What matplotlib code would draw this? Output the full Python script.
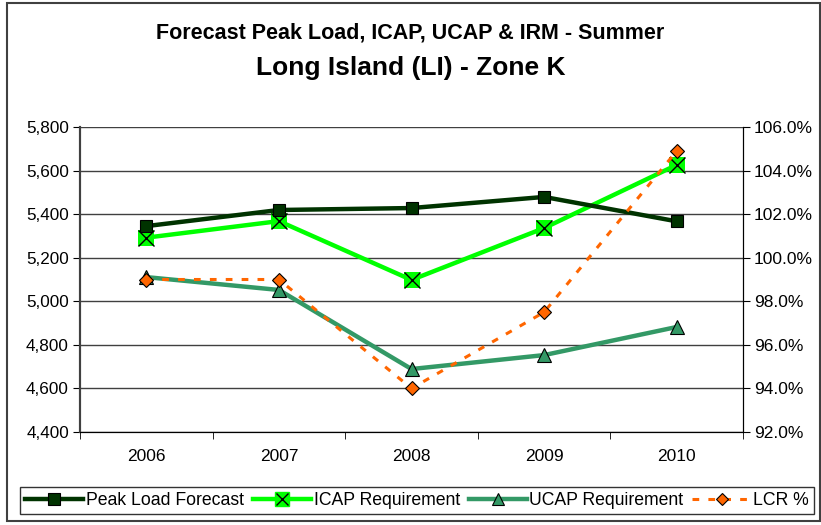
import matplotlib
matplotlib.use("Agg")
import matplotlib.pyplot as plt
from matplotlib.ticker import FuncFormatter, FixedLocator
from matplotlib.lines import Line2D
import matplotlib.patches as patches

years = ["2006", "2007", "2008", "2009", "2010"]
peak_load = [5345, 5419, 5428, 5479, 5367]
icap_req = [5292, 5368, 5098, 5336, 5626]
ucap_req = [5111, 5052, 4689, 4753, 4882]
lcr_pct = [99.0, 99.0, 94.0, 97.5, 104.9]

plt.rcParams['font.family'] = ['Liberation Sans', 'DejaVu Sans']

fig = plt.figure(figsize=(8.21, 5.25), dpi=100)
ax = fig.add_axes([80/821, 1-432/525, (743-80)/821, (432-127)/525])
ax2 = ax.twinx()

x = list(range(len(years)))

ax.set_xlim(-0.5, len(years) - 0.5)
ax.set_ylim(4400, 5800)
ax2.set_ylim(92, 106)

# grid
for v in range(4400, 5801, 200):
    ax.axhline(v, color='#404040', lw=1.0, zorder=0)

ax.plot(x, peak_load, color='#003300', lw=3.2, marker='s', ms=9,
        mfc='#003300', mec='black', mew=0.8, zorder=4)
ax.plot(x, icap_req, color='#00FF00', lw=3.2, marker='s', ms=12,
        mfc='#00FF00', mec='#00FF00', mew=0, zorder=3)
ax.plot(x, icap_req, ls='none', marker='x', ms=11, mec='black', mew=1.0, zorder=3.5)
ax.plot(x, ucap_req, color='#339966', lw=3.2, marker='^', ms=10,
        mfc='#339966', mec='black', mew=0.8, zorder=2)
ax2.plot(x, lcr_pct, color='#FF6600', lw=2.2, ls=(0, (2.2, 3.0)), marker='D', ms=7,
         mfc='#FF6600', mec='black', mew=0.8, zorder=5)

ax.set_xticks(x)
ax.set_xticklabels(years)
ax.xaxis.set_minor_locator(FixedLocator([i + 0.5 for i in range(-1, len(years))]))
ax.tick_params(axis='x', which='major', length=0, pad=12, labelsize=12.5)
ax.tick_params(axis='x', which='minor', length=5, direction='out', color='black')
ax.set_yticks(range(4400, 5801, 200))
ax.yaxis.set_major_formatter(FuncFormatter(lambda v, p: f"{int(v):,}"))
ax.tick_params(axis='y', length=5, direction='out', labelsize=12.3, pad=3)

ax2.set_yticks(range(92, 107, 2))
ax2.yaxis.set_major_formatter(FuncFormatter(lambda v, p: f"{v:.1f}%"))
ax2.tick_params(axis='y', length=5, direction='out', labelsize=12.5, pad=3)

for a in (ax, ax2):
    a.spines['top'].set_visible(False)
    a.spines['bottom'].set_color('black')
    a.spines['left'].set_color('#404040')
    a.spines['left'].set_linewidth(1.5)
    a.spines['right'].set_color('black')
ax2.set_zorder(ax.get_zorder() + 1)
ax2.patch.set_visible(False)

fig.text(0.5, 1-33/525, "Forecast Peak Load, ICAP, UCAP & IRM - Summer",
         ha='center', va='center', fontsize=15.5, fontweight='bold')
fig.text(0.5, 1-68/525, "Long Island (LI) - Zone K",
         ha='center', va='center', fontsize=19, fontweight='bold')

# legend
h1 = Line2D([], [], color='#003300', lw=3.2, marker='s', ms=8, mfc='#003300', mec='black', mew=0.8)
h2a = Line2D([], [], color='#00FF00', lw=3.2, marker='s', ms=10, mfc='#00FF00', mec='#00FF00')
h2b = Line2D([], [], ls='none', marker='x', ms=9, mec='black', mew=1.0)
h3 = Line2D([], [], color='#339966', lw=3.2, marker='^', ms=8, mfc='#339966', mec='black', mew=0.8)
h4 = Line2D([], [], color='#FF6600', lw=2.2, ls=(0, (2.2, 3.0)), marker='D', ms=6, mfc='#FF6600', mec='black', mew=0.8)
leg = fig.legend([h1, (h2a, h2b), h3, h4],
                 ["Peak Load Forecast", "ICAP Requirement", "UCAP Requirement", "LCR %"],
                 loc='center', bbox_to_anchor=(417/821, 1-500.5/525), ncol=4,
                 frameon=True, fancybox=False, edgecolor='black', fontsize=12.7,
                 handlelength=3.3, handletextpad=0.15, columnspacing=0.5,
                 borderpad=0.3)
leg.get_frame().set_linewidth(1.0)

# outer border
fig.patches.append(patches.Rectangle((7/821, 4/525), 1-8/821, 1-7/525, transform=fig.transFigure,
                                     fill=False, edgecolor='#404040', lw=1.5))

fig.savefig("out.png", dpi=100)
